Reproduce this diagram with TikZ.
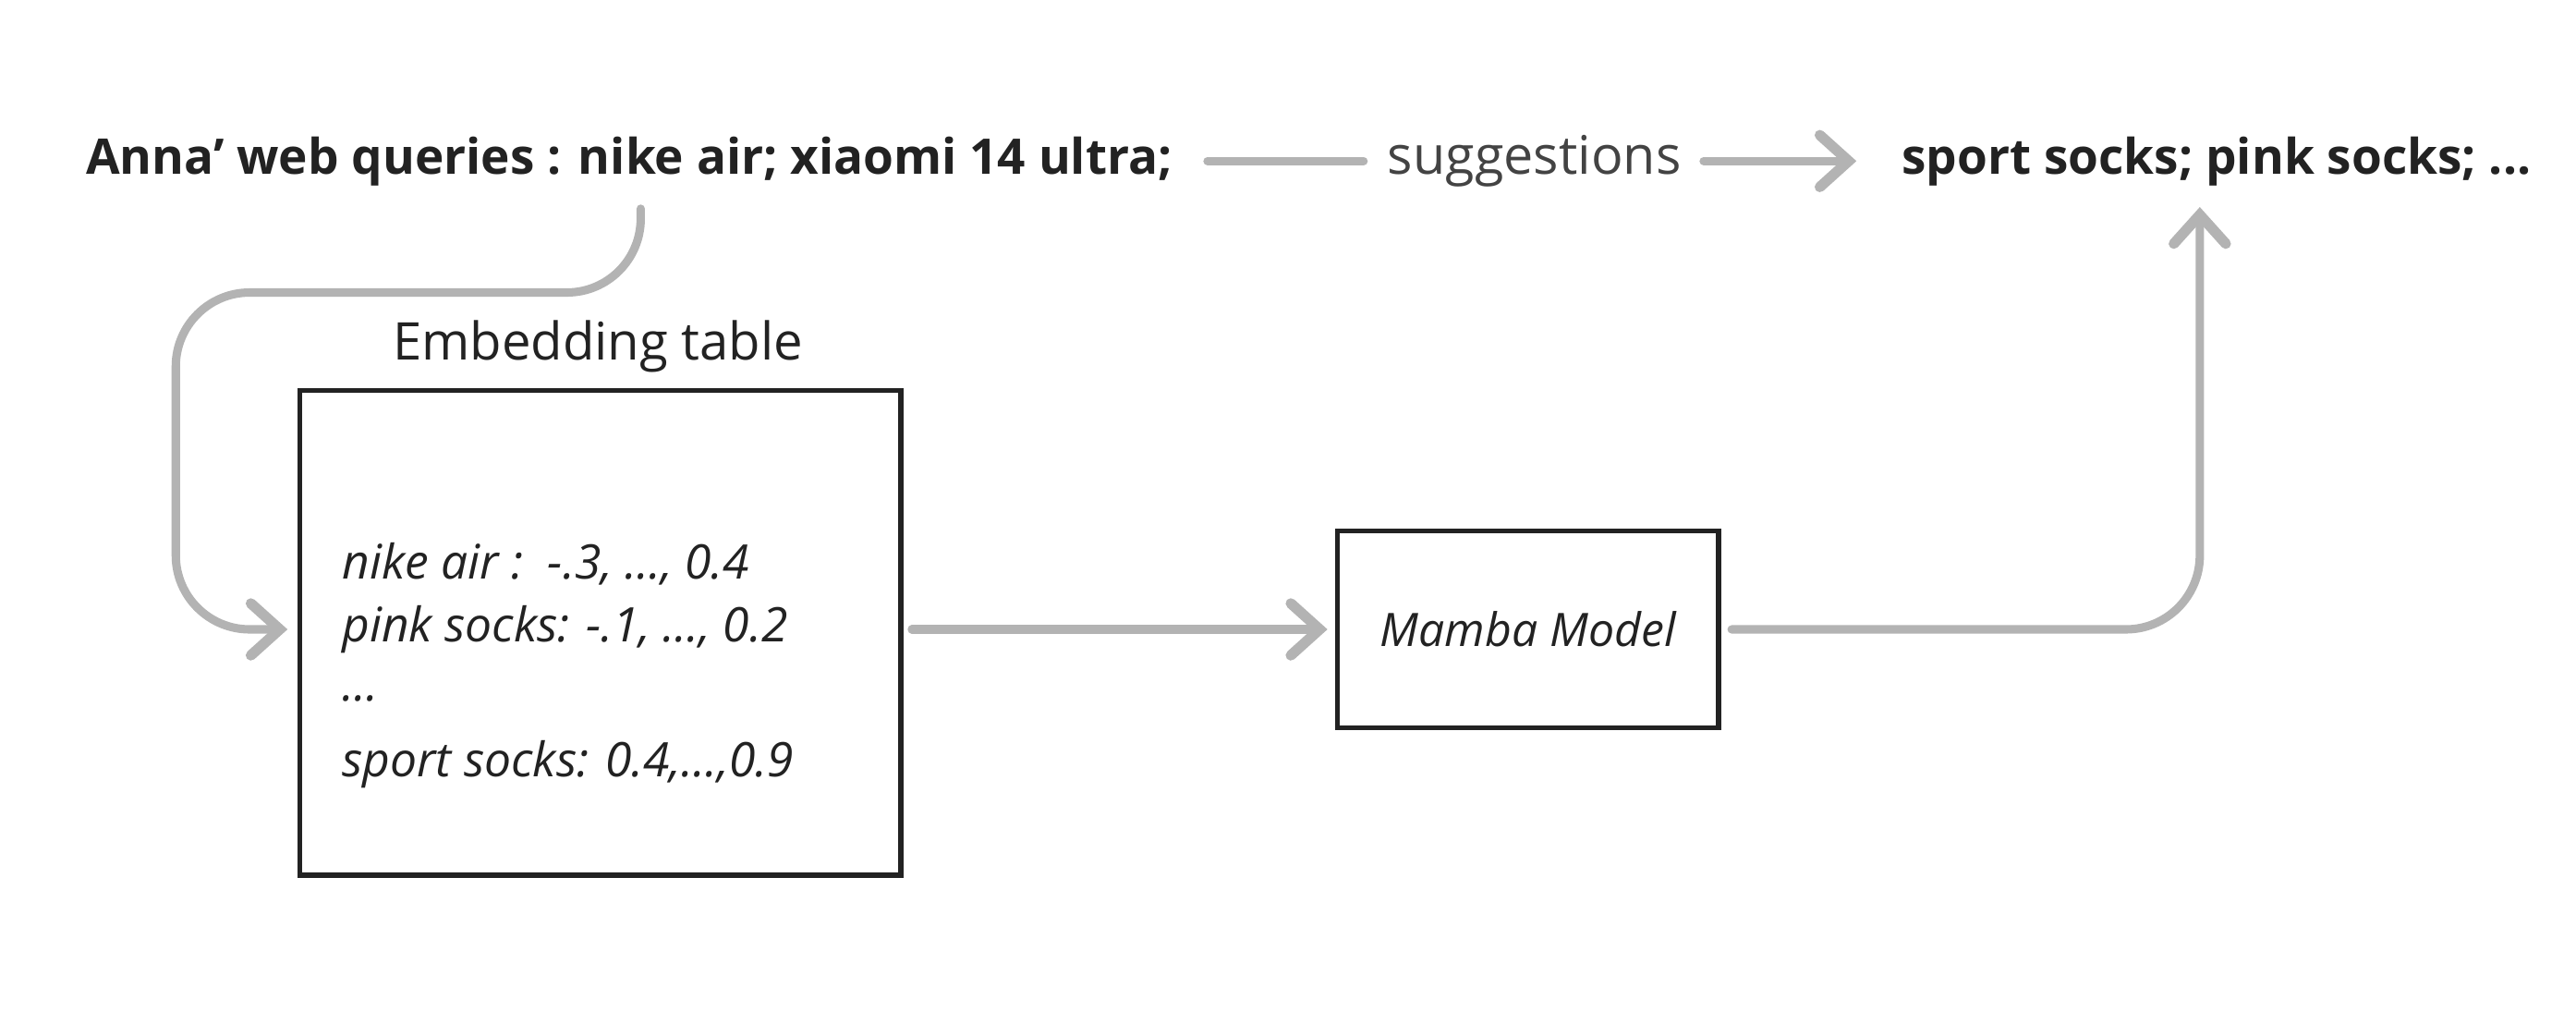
\documentclass[tikz,border=0pt]{standalone}
\usepackage{fontspec}
\setmainfont{Open Sans}
\usetikzlibrary{arrows.meta}
\definecolor{ink}{HTML}{222222}
\definecolor{conn}{HTML}{B3B3B3}
\begin{document}
\begin{tikzpicture}[x=0.02cm,y=-0.02cm,
  lab/.style={inner sep=0pt,text=ink,font=\fontsize{17}{20}\selectfont\bfseries},
  wire/.style={draw=conn,line width=2.9pt,line cap=round,rounded corners=0.9cm},
  arr/.style={wire,-{Straight Barb[length=10pt,width=18pt,line cap=round,line width=3.6pt]}},
  box/.style={draw=ink,line width=1.8pt,inner sep=0pt},
  body/.style={inner sep=0pt,text=ink,font=\fontsize{16.5}{19}\selectfont\itshape}]
\useasboundingbox (0,0) rectangle (1568,630);
\node[lab,anchor=west] (q) at (52,98) {Anna{\char"27} web queries : nike air; xiaomi 14 ultra;};
\node[inner sep=0pt,text=ink!85,font=\fontsize{18.4}{21}\selectfont] (sg) at (934,98) {suggestions};
\node[lab,anchor=east] (out) at (1541,98) {sport socks; pink socks; ...};
\node[box,minimum width=7.32cm,minimum height=5.9cm,anchor=north west] (emb) at (181,236) {};
\node[inner sep=0pt,text=ink,font=\fontsize{18}{21}\selectfont] (et) at (364,211) {Embedding table};
\node[body,anchor=west] (l1) at (208,343) {nike air :\ \ -.3, ..., 0.4};
\node[body,anchor=west] (l2) at (208,383) {pink socks: -.1, ..., 0.2};
\node[body,anchor=west] (l3) at (208,425) {...};
\node[body,anchor=west] (l4) at (208,465) {sport socks: 0.4,...,0.9};
\node[box,minimum width=4.64cm,minimum height=2.4cm,font=\fontsize{16}{19}\selectfont\itshape,text=ink] (mm) at (930,383) {Mamba Model};
\coordinate (c1) at (390,127);
\coordinate (c2) at (735,98);
\coordinate (c3) at (830,98);
\coordinate (c4) at (1037,98);
\coordinate (c5) at (1130,98);
\coordinate (c6) at (175,383);
\coordinate (c7) at (555,383);
\coordinate (c8) at (808,383);
\coordinate (c9) at (1054,383);
\coordinate (c10) at (1339,126);
\draw[arr] (c1) -- (390,178) -- (107,178) -- (107,383) -- (c6);
\draw[wire] (c2) -- (c3);
\draw[arr] (c4) -- (c5);
\draw[arr] (c7) -- (c8);
\draw[arr] (c9) -- (1339,383) -- (c10);
\end{tikzpicture}
\end{document}
